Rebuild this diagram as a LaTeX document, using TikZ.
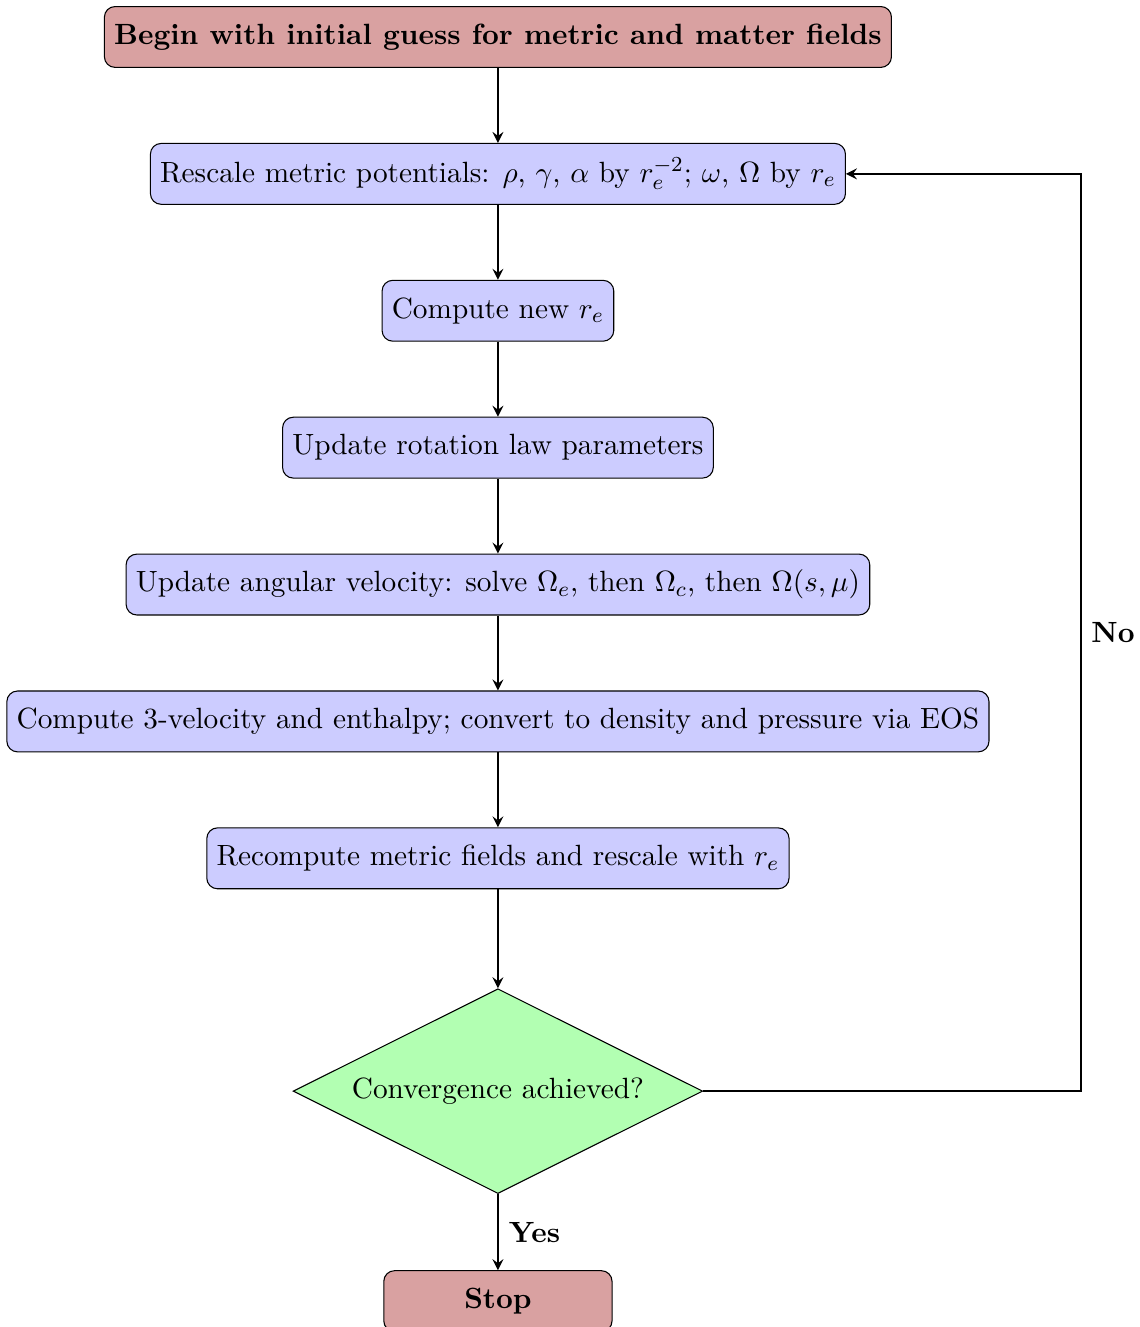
\documentclass[tikz,border=0pt,11pt]{standalone}
\usepackage{amsmath}
\usepackage{amssymb}
\usepackage{tikz}
\usetikzlibrary{shapes,arrows,backgrounds,positioning}
\definecolor{fc_pink}{RGB}{217,161,161}
\tikzset{
  fc_box/.style = {rectangle, rounded corners, draw=black, align=center,
    minimum height=0.8cm},
  fc_term/.style = {fc_box, fill=fc_pink, font=\bfseries,
    minimum width=3cm},% debut / fin
  fc_proc/.style = {fc_box, fill=blue!20},% etape de calcul
  fc_dec/.style = {diamond, draw=black, fill=green!30, aspect=2,
    inner sep=4pt, align=center},% test
  fc_arr/.style = {->, >=stealth, thick}
}
\begin{document}
\begin{tikzpicture}
        \useasboundingbox (-6.544,0.486) rectangle (8.436,-16.954);
        \node [fc_term](A){Begin with initial guess for metric and matter fields};
        \node [fc_proc, below= .985cm of A](B){Rescale metric potentials: $\rho$, $\gamma$, $\alpha$ by $r_e^{-2}$; $\omega$, $\Omega$ by $r_e$};
        \node [fc_proc, below= .985cm of B](C){Compute new $r_e$};
        \node [fc_proc, below= .985cm of C](D){Update rotation law parameters};
        \node [fc_proc, below= .985cm of D](E){Update angular velocity: solve $\Omega_e$, then $\Omega_c$, then $\Omega(s,\mu)$};
        \node [fc_proc, below= .985cm of E](F){Compute 3-velocity and enthalpy; convert to density and pressure via EOS};
        \node [fc_proc, below= .985cm of F](G){Recompute metric fields and rescale with $r_e$};
        \node [fc_dec, below= 1.3cm of G](H){Convergence achieved?};
        \node [fc_term, below= 1cm of H](I){Stop};
        \coordinate [right= 4.96cm of H.east](L);

        \draw [fc_arr] (A) -- (B);
        \draw [fc_arr] (B) -- (C);
        \draw [fc_arr] (C) -- (D);
        \draw [fc_arr] (D) -- (E);
        \draw [fc_arr] (E) -- (F);
        \draw [fc_arr] (F) -- (G);
        \draw [fc_arr] (G) -- (H);
        \draw [fc_arr] (H) -- node[right, font=\bfseries]{Yes} (I);
        \draw [fc_arr] (H.east) -- (L) |- node[pos=0.25, right, font=\bfseries]{No} (B.east);

        \end{tikzpicture}
\end{document}
